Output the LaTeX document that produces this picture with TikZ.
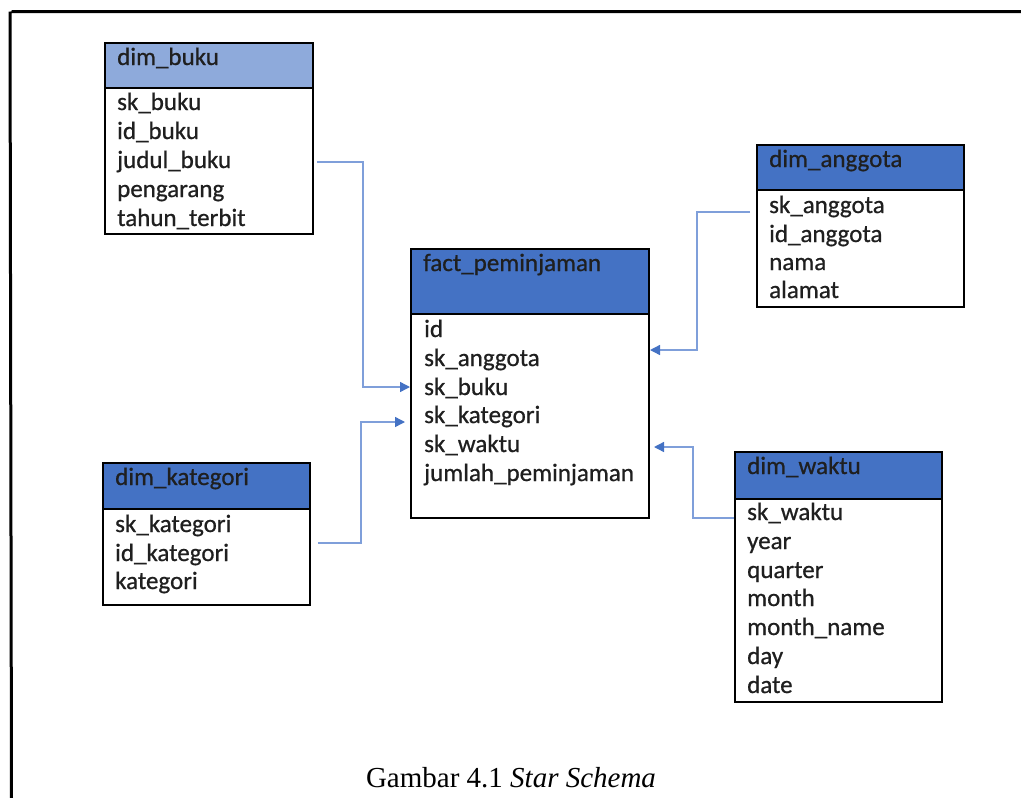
\documentclass[tikz,border=0pt]{standalone}
\usepackage{fontspec}
\setmainfont{Carlito}[FakeBold=0.7]
\newfontfamily\capfont{Liberation Serif}
\usetikzlibrary{arrows.meta}
\definecolor{hdrblue}{HTML}{4472C4}
\definecolor{hdrlight}{HTML}{8EAADB}
\definecolor{linkblue}{HTML}{7F9FDA}
\tikzset{
  tbox/.style={draw=black, line width=2pt, fill=white, anchor=north west, inner sep=0pt, outer sep=0pt},
  thead/.style={tbox, fill=hdrblue},
  theadlight/.style={tbox, fill=hdrlight},
  fld/.style={anchor=base west, inner sep=0pt, font=\fontsize{25}{29}\selectfont, text=black!88},
  conn/.style={draw=linkblue, line width=1.4pt, -{Triangle[length=10pt,width=10pt,color=hdrblue]}},
  frameline/.style={line width=3pt, black}
}
% a table: body box, header box and its title
% #1 name, #2 left, #3 top, #4 right, #5 header bottom, #6 bottom, #7 header style, #8 title
\newcommand{\tablebox}[8]{%
  \node[tbox, minimum width=#4pt-#2pt, minimum height=#6pt-#3pt] (#1) at (#2,#3) {};
  \node[#7, minimum width=#4pt-#2pt, minimum height=#5pt-#3pt] (#1-h) at (#2,#3) {};
  \node[fld] (#1-t) at (#2+12,#3+22) {#8};
}
\begin{document}
\begin{tikzpicture}[x=1pt,y=-1pt]
\useasboundingbox (0,0) rectangle (1021,798);
% page frame
\coordinate (fr-bl) at (11.5,798);
\coordinate (fr-tl) at (11.5,11.5);
\coordinate (fr-tr) at (1021,11.5);
\draw[frameline] (fr-bl) -- (10,11.5) (fr-tl) -- (fr-tr);

% tables
\tablebox{buku}{105}{43}{313}{88}{234}{theadlight}{dim\_buku}
\tablebox{fact}{411}{249}{649}{314}{518}{thead}{fact\_peminjaman}
\tablebox{angg}{757}{145}{964}{190}{307}{thead}{dim\_anggota}
\tablebox{waktu}{735}{452}{942}{499}{702}{thead}{dim\_waktu}
\tablebox{kat}{103}{463}{310}{509}{605}{thead}{dim\_kategori}

% fields of dim_buku
\node[fld] (buku-1) at (117,110) {sk\_buku};
\node[fld] (buku-2) at (117,139) {id\_buku};
\node[fld] (buku-3) at (117,168) {judul\_buku};
\node[fld] (buku-4) at (117,197) {pengarang};
\node[fld] (buku-5) at (117,226) {tahun\_terbit};

% fields of fact_peminjaman
\node[fld] (fact-1) at (424,337) {id};
\node[fld] (fact-2) at (424,366) {sk\_anggota};
\node[fld] (fact-3) at (424,395) {sk\_buku};
\node[fld] (fact-4) at (424,423) {sk\_kategori};
\node[fld] (fact-5) at (424,452) {sk\_waktu};
\node[fld] (fact-6) at (424,481) {jumlah\_peminjaman};

% fields of dim_anggota
\node[fld] (angg-1) at (769,213) {sk\_anggota};
\node[fld] (angg-2) at (769,242) {id\_anggota};
\node[fld] (angg-3) at (769,270) {nama};
\node[fld] (angg-4) at (769,298) {alamat};

% fields of dim_waktu
\node[fld] (waktu-1) at (747,520) {sk\_waktu};
\node[fld] (waktu-2) at (747,549) {year};
\node[fld] (waktu-3) at (747,578) {quarter};
\node[fld] (waktu-4) at (747,606) {month};
\node[fld] (waktu-5) at (747,635) {month\_name};
\node[fld] (waktu-6) at (747,664) {day};
\node[fld] (waktu-7) at (747,693) {date};

% fields of dim_kategori
\node[fld] (kat-1) at (115,532) {sk\_kategori};
\node[fld] (kat-2) at (115,561) {id\_kategori};
\node[fld] (kat-3) at (115,589) {kategori};

% connector ends
\coordinate (c-buku) at (317,162);
\coordinate (c-buku-in) at (410,387);
\coordinate (c-kat) at (318,543);
\coordinate (c-kat-in) at (405,422);
\coordinate (c-angg) at (750,212);
\coordinate (c-angg-in) at (650,350);
\coordinate (c-waktu) at (734,518);
\coordinate (c-waktu-in) at (654,447);

\draw[conn] (c-buku) -- ++(46,0) |- (c-buku-in);
\draw[conn] (c-kat) -- ++(43,0) |- (c-kat-in);
\draw[conn] (c-angg) -- ++(-53,0) |- (c-angg-in);
\draw[conn] (c-waktu) -- ++(-41,0) |- (c-waktu-in);

% caption
\node[anchor=base, inner sep=0pt, font=\capfont\fontsize{29}{33}\selectfont] (caption) at (511,787) {Gambar 4.1 \textit{Star Schema}};
\end{tikzpicture}
\end{document}
